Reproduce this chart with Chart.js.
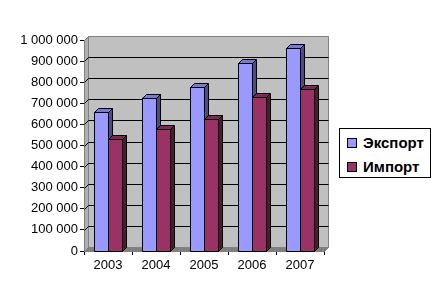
<!DOCTYPE html>
<html>
<head>
<meta charset="utf-8">
<script src="https://cdn.jsdelivr.net/npm/chart.js@4.4.1/dist/chart.umd.min.js"></script>
<style>
  html,body{margin:0;padding:0;background:#fff;}
  #wrap{position:relative;width:446px;height:308px;}
  #legend{position:absolute;left:339px;top:128px;width:92px;height:50px;border:1px solid #000;background:#fff;
    font-family:"Liberation Sans",Arial,sans-serif;font-weight:bold;font-size:15px;color:#000;box-sizing:border-box;}
  .item{position:absolute;left:7px;height:16px;line-height:16px;white-space:nowrap;}
  .sw{display:inline-block;width:8px;height:8px;border:1px solid #000;vertical-align:middle;margin-right:6px;position:relative;top:-1px;}
</style>
</head>
<body>
<div id="wrap">
  <canvas id="c" width="446" height="308"></canvas>
  <div id="legend"></div>
</div>
<script>
const categories = ['2003', '2004', '2005', '2006', '2007'];
const exportValues = [660000, 727000, 779000, 889000, 961000];
const importValues = [529000, 577000, 624000, 731000, 766000];
const seriesNames = ['Экспорт', 'Импорт'];
const yTickValues = [0, 100000, 200000, 300000, 400000, 500000, 600000, 700000, 800000, 900000, 1000000];

const frontColors = ['#9999FF', '#993366'];
const topColors = ['#7A7ACC', '#7A2952'];
const sideColors = ['#4D4D80', '#4D1A33'];
const DEPTH = 4;

function fmt(v){ return String(v).replace(/\B(?=(\d{3})+(?!\d))/g, ' '); }

function poly(ctx, pts, fill, stroke){
  ctx.beginPath();
  ctx.moveTo(pts[0][0], pts[0][1]);
  for (let i = 1; i < pts.length; i++) ctx.lineTo(pts[i][0], pts[i][1]);
  ctx.closePath();
  if (fill){ ctx.fillStyle = fill; ctx.fill(); }
  if (stroke){ ctx.strokeStyle = stroke; ctx.lineWidth = 1; ctx.stroke(); }
}

const threeD = {
  id: 'threeD',
  beforeDatasetsDraw(chart){
    const {ctx, chartArea, scales} = chart;
    const L = chartArea.left, R = chartArea.right, T = chartArea.top, B = chartArea.bottom;
    const d = DEPTH;
    ctx.save();
    // back wall
    poly(ctx, [[L+d+0.5, T-d+0.5],[R+d+0.5, T-d+0.5],[R+d+0.5, B-d+0.5],[L+d+0.5, B-d+0.5]], '#C0C0C0', '#808080');
    // left wall
    poly(ctx, [[L+0.5, T+0.5],[L+d+0.5, T-d+0.5],[L+d+0.5, B-d+0.5],[L+0.5, B+0.5]], '#B0B0B0', '#808080');
    // floor
    poly(ctx, [[L+0.5, B+0.5],[L+d+0.5, B-d+0.5],[R+d+0.5, B-d+0.5],[R+0.5, B+0.5]], '#808080', '#808080');
    // gridlines
    ctx.strokeStyle = '#000';
    ctx.lineWidth = 1;
    yTickValues.forEach(v => {
      if (v === 0 || v === 1000000) return;
      const py = Math.round(scales.y.getPixelForValue(v)) + 0.5;
      ctx.beginPath();
      ctx.moveTo(L + 0.5, py);
      ctx.lineTo(L + d + 0.5, py - d);
      ctx.lineTo(R + d + 0.5, py - d);
      ctx.stroke();
    });
    ctx.restore();
  },
  afterDatasetsDraw(chart){
    const ctx = chart.ctx;
    const d = DEPTH;
    ctx.save();
    chart.data.datasets.forEach((ds, di) => {
      const meta = chart.getDatasetMeta(di);
      meta.data.forEach(el => {
        const p = el.getProps(['x','y','base','width'], true);
        const l = Math.round(p.x - p.width/2) + 0.5;
        const r = Math.round(p.x + p.width/2) + 0.5;
        const t = Math.round(p.y) + 0.5;
        const b = Math.round(p.base) + 0.5;
        poly(ctx, [[l,t],[r,t],[r,b],[l,b]], frontColors[di], '#000');
        poly(ctx, [[l,t],[l+d,t-d],[r+d,t-d],[r,t]], topColors[di], '#000');
        poly(ctx, [[r,t],[r+d,t-d],[r+d,b-d],[r,b]], sideColors[di], '#000');
      });
    });
    ctx.restore();
  }
};

const chart = new Chart(document.getElementById('c'), {
  type: 'bar',
  data: {
    labels: categories,
    datasets: [
      { label: seriesNames[0], data: exportValues, backgroundColor: frontColors[0], borderColor: '#000', borderWidth: 1 },
      { label: seriesNames[1], data: importValues, backgroundColor: frontColors[1], borderColor: '#000', borderWidth: 1 }
    ]
  },
  options: {
    responsive: false,
    animation: false,
    devicePixelRatio: 1,
    layout: { padding: { left: 0, top: 40, right: 122, bottom: 0 } },
    datasets: { bar: { categoryPercentage: 28/48, barPercentage: 1 } },
    plugins: { legend: { display: false }, tooltip: { enabled: false } },
    scales: {
      x: {
        grid: { drawOnChartArea: false, color: '#000', tickLength: 4, offset: true },
        border: { color: '#000' },
        ticks: { color: '#000', font: { family: '"Liberation Sans", Arial, sans-serif', size: 13 }, padding: 3, maxRotation: 0 },
        afterFit(s){ s.height = 57; }
      },
      y: {
        min: 0, max: 1000000,
        afterBuildTicks(s){ s.ticks = yTickValues.map(v => ({ value: v })); },
        grid: { drawOnChartArea: false, color: '#000', tickLength: 4 },
        border: { color: '#000' },
        ticks: { color: '#000', font: { family: '"Liberation Sans", Arial, sans-serif', size: 13 }, padding: 2, callback: v => fmt(v) },
        afterFit(s){ s.width = 84; }
      }
    }
  },
  plugins: [threeD]
});

// HTML legend built from the series
const lg = document.getElementById('legend');
seriesNames.forEach((n, i) => {
  const it = document.createElement('div');
  it.className = 'item';
  it.style.top = (6 + i * 24) + 'px';
  it.innerHTML = '<span class="sw" style="background:' + frontColors[i] + '"></span>' + n;
  lg.appendChild(it);
});
</script>
</body>
</html>
